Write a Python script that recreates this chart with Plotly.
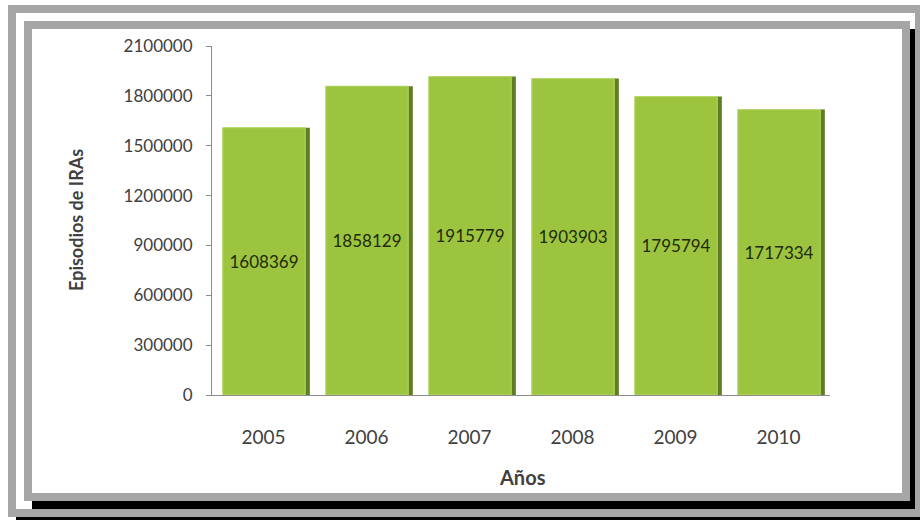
import plotly.graph_objects as go

years = ["2005", "2006", "2007", "2008", "2009", "2010"]
episodes = [1608369, 1858129, 1915779, 1903903, 1795794, 1717334]
y_ticks = [0, 300000, 600000, 900000, 1200000, 1500000, 1800000, 2100000]
y_title = "Episodios de IRAs"
x_title = "Años"

W, H = 920, 520
L, R, T, B = 212, 830, 46, 395  # plot area pixels

FONT = "Lato, Open Sans, sans-serif"


def px(x):
    return (x - L) / (R - L)


def py(y):
    return (B - y) / (B - T)


fig = go.Figure()

# dark right-edge (3D side) of each bar
fig.add_trace(go.Bar(
    x=years, y=episodes, width=0.845, offset=-0.395,
    marker=dict(color="#5f7d22", line=dict(width=0)),
    hoverinfo="skip", showlegend=False,
))
# main face
fig.add_trace(go.Bar(
    x=years, y=episodes, width=0.80, offset=-0.395,
    marker=dict(color="#9cc43e", line=dict(color="#b8da6a", width=1)),
    text=[str(v) for v in episodes], textposition="inside",
    insidetextanchor="middle", textangle=0,
    textfont=dict(family=FONT, size=17, color="#1f2a08"),
    showlegend=False,
))

shapes = []
# outer shadow
shapes.append(dict(type="rect", xref="paper", yref="paper", layer="below",
                   x0=px(16), x1=px(927), y0=py(525), y1=py(13),
                   fillcolor="black", line=dict(width=0)))
# outer white fill
shapes.append(dict(type="rect", xref="paper", yref="paper", layer="below",
                   x0=px(8), x1=px(923), y0=py(517), y1=py(5),
                   fillcolor="white", line=dict(width=0)))
# inner shadow
shapes.append(dict(type="rect", xref="paper", yref="paper", layer="below",
                   x0=px(32), x1=px(918), y0=py(509), y1=py(29),
                   fillcolor="black", line=dict(width=0)))
# inner frame
shapes.append(dict(type="rect", xref="paper", yref="paper", layer="below",
                   x0=px(28), x1=px(906), y0=py(497), y1=py(25),
                   fillcolor="white", line=dict(color="#a6a6a6", width=8)))
# outer frame border
shapes.append(dict(type="rect", xref="paper", yref="paper", layer="below",
                   x0=px(12), x1=px(919), y0=py(513), y1=py(9),
                   fillcolor="rgba(0,0,0,0)", line=dict(color="#a6a6a6", width=8)))

annotations = [
    dict(text="<b>" + y_title + "</b>", xref="paper", yref="paper",
         x=px(76), y=py(220), textangle=-90, showarrow=False,
         font=dict(family=FONT, size=18, color="#404040"),
         xanchor="center", yanchor="middle"),
    dict(text="<b>" + x_title + "</b>", xref="paper", yref="paper",
         x=px(522), y=py(477), showarrow=False,
         font=dict(family=FONT, size=20, color="#404040"),
         xanchor="center", yanchor="middle"),
]

fig.update_layout(
    width=W, height=H,
    margin=dict(l=L, r=W - R, t=T, b=H - B, autoexpand=False),
    paper_bgcolor="white", plot_bgcolor="rgba(0,0,0,0)",
    barmode="overlay", bargap=0.155,
    shapes=shapes, annotations=annotations,
    font=dict(family=FONT, color="#404040"),
)
fig.update_xaxes(
    type="category", showgrid=False, showline=True, linecolor="#8c8c8c",
    linewidth=1, ticks="", ticklabelstandoff=25,
    tickfont=dict(size=19, color="#404040"),
)
fig.update_yaxes(
    range=[0, 2100000], tickvals=y_ticks, ticktext=[str(v) for v in y_ticks],
    showgrid=False, showline=True, linecolor="#8c8c8c", linewidth=1,
    ticks="outside", ticklen=5, tickcolor="#8c8c8c", ticklabelstandoff=10,
    tickfont=dict(size=17, color="#404040"), zeroline=False,
)

fig.write_html("out.html", config={"displayModeBar": False},
               post_script="document.body.style.margin='0';")
